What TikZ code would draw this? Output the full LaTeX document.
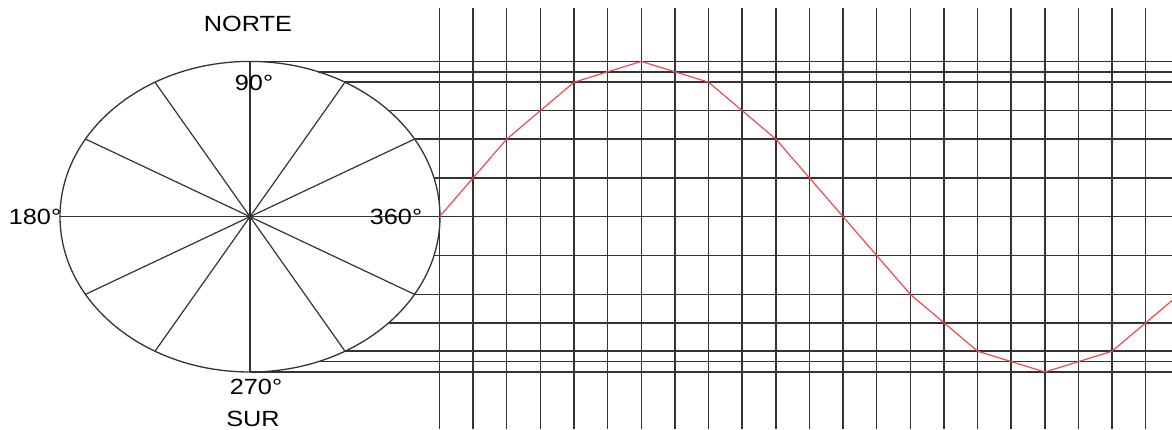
\documentclass[tikz,border=0pt]{standalone}
\usepackage{fontspec}
\setmainfont{Liberation Sans}
\definecolor{gridc}{HTML}{333333}
\definecolor{sinec}{HTML}{F04A4A}
\begin{document}
\begin{tikzpicture}[x=1pt,y=-1pt,
  gridline/.style={draw=gridc,line width=1.45pt},
  spoke/.style={draw=gridc,line width=1.2pt},
  ellipsec/.style={draw=gridc,line width=1.3pt},
  sineline/.style={draw=sinec,line width=1.2pt,line join=round},
  lab/.style={inner sep=0pt,font=\fontsize{22}{24}\selectfont}]
\useasboundingbox (0,0) rectangle (1172,429);
\def\cx{250}\def\cy{216.7}\def\ra{190}\def\rb{155.3}
\def\gx{439.5}\def\gd{33.63}
\begin{scope}
\clip (0,0) rectangle (1172,429);
% vertical grid lines
\foreach \i in {0,...,21}
  \draw[gridline] ({\gx+\i*\gd},8) -- ({\gx+\i*\gd},429);
% horizontal projection lines
\foreach \v in {1,0.9330127,0.8660254,0.6830127,0.5,0.25,-0.25,-0.5,-0.6830127,-0.8660254,-0.9330127,-1}
  \draw[gridline] ({\cx+\ra*sqrt(abs(1-\v*\v))},{\cy-\rb*\v}) -- (1172,{\cy-\rb*\v});
\draw[gridline] (\gx,\cy) -- (1172,\cy);
% ellipse and spokes
\draw[ellipsec] (\cx,\cy) ellipse [x radius=\ra, y radius=\rb];
\foreach \t in {0,30,...,150}
  \draw[spoke] ({\cx+\ra*cos(\t)},{\cy-\rb*sin(\t)}) -- ({\cx-\ra*cos(\t)},{\cy+\rb*sin(\t)});
% sine polyline
\draw[sineline] (\gx,\cy) \foreach \k in {1,...,11} { -- ({\gx+2*\k*\gd},{\cy-\rb*sin(30*\k)}) };
\end{scope}
% labels
\node[lab] (norte) at (248,24) {\scalebox{1.15}[1]{NORTE}};
\node[lab] (n90) at (254,83) {\scalebox{1.15}[1]{90°}};
\node[lab] (n360) at (396,217) {\scalebox{1.15}[1]{360°}};
\node[lab] (n180) at (35,217) {\scalebox{1.15}[1]{180°}};
\node[lab] (n270) at (256,387) {\scalebox{1.15}[1]{270°}};
\node[lab] (sur) at (253,419) {\scalebox{1.15}[1]{SUR}};
\end{tikzpicture}
\end{document}
